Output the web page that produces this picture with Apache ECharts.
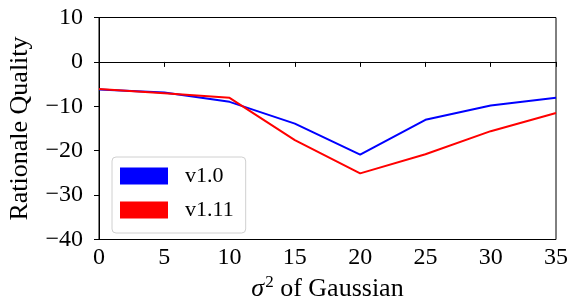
<!DOCTYPE html>
<html>
<head>
<meta charset="utf-8">
<script src="https://cdn.jsdelivr.net/npm/echarts@6/dist/echarts.min.js"></script>
<style>
  html, body { margin: 0; padding: 0; background: #fff; }
  #chart { width: 567px; height: 300px; }
</style>
</head>
<body>
<div id="chart"></div>
<script>
// sigma^2 values on the x axis
const sigmas = [0, 5, 10, 15, 20, 25, 30, 35];
const v10 = [-6.2, -6.9, -9.0, -13.9, -20.9, -13.05, -9.8, -8.1];
const v111 = [-6.1, -7.05, -8.1, -17.6, -25.1, -20.8, -15.6, -11.5];
const seriesNames = ['v1.0', 'v1.11'];

const font = 'Liberation Serif, Times New Roman, serif';
const minus = (v) => String(v).replace('-', '\u2212');

const chart = echarts.init(document.getElementById('chart'));
chart.setOption({
  animation: false,
  backgroundColor: '#fff',
  textStyle: { fontFamily: font },
  grid: {
    left: 99, right: 11, top: 17.5, bottom: 60.5,
    outerBoundsMode: 'none',
    containLabel: false,
    show: true, borderColor: '#000', borderWidth: 1,
  },
  legend: {
    orient: 'vertical',
    left: 112, top: 157,
    icon: 'rect',
    itemWidth: 48, itemHeight: 17,
    itemGap: 12,
    padding: [8, 12, 12, 8],
    borderColor: '#d0d0d0', borderWidth: 1, borderRadius: 4,
    backgroundColor: '#fff',
    textStyle: { fontFamily: font, fontSize: 22, color: '#000', padding: [0, 0, 0, 12] },
    data: seriesNames,
  },
  xAxis: {
    type: 'value',
    min: 0, max: 35, interval: 5,
    name: '{i|σ}{s|2} of Gaussian',
    nameLocation: 'middle',
    nameGap: 26,
    nameTextStyle: {
      fontFamily: font, fontSize: 26, color: '#000',
      rich: {
        i: { fontFamily: font, fontSize: 26, fontStyle: 'italic', color: '#000' },
        s: { fontFamily: font, fontSize: 17, color: '#000', verticalAlign: 'top', padding: [0, 0, 12, 1] },
      },
    },
    axisLine: { lineStyle: { color: '#000', width: 1 } },
    axisTick: { length: 5, lineStyle: { color: '#000' } },
    axisLabel: { fontFamily: font, fontSize: 24, color: '#000', margin: 6 },
    splitLine: { show: false },
  },
  yAxis: {
    type: 'value',
    min: -40, max: 10, interval: 10,
    name: 'Rationale Quality',
    nameLocation: 'middle',
    nameGap: 66,
    nameTextStyle: { fontFamily: font, fontSize: 26, color: '#000' },
    axisLine: { show: true, lineStyle: { color: '#000', width: 1 } },
    axisTick: { show: true, length: 5, lineStyle: { color: '#000' } },
    axisLabel: { fontFamily: font, fontSize: 24, color: '#000', margin: 16, formatter: minus },
    splitLine: { show: false },
  },
  series: [
    {
      name: seriesNames[0],
      type: 'line',
      showSymbol: false,
      color: '#0000ff',
      lineStyle: { width: 2, color: '#0000ff' },
      data: sigmas.map((s, i) => [s, v10[i]]),
    },
    {
      name: seriesNames[1],
      type: 'line',
      showSymbol: false,
      color: '#ff0000',
      lineStyle: { width: 2, color: '#ff0000' },
      data: sigmas.map((s, i) => [s, v111[i]]),
    },
  ],
});
</script>
</body>
</html>
